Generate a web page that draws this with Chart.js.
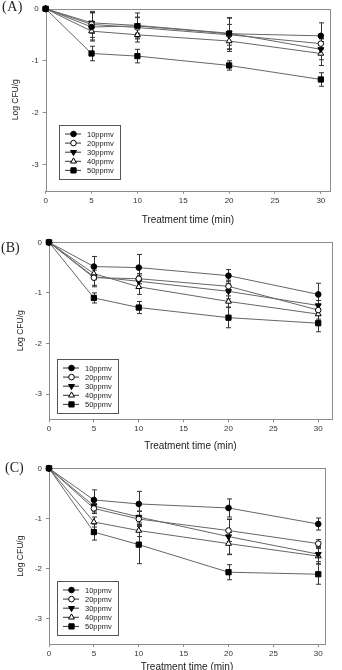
<!DOCTYPE html>
<html>
<head>
<meta charset="utf-8">
<script src="https://cdn.jsdelivr.net/npm/chart.js@4.4.1/dist/chart.umd.min.js"></script>
<style>
  html, body { margin: 0; padding: 0; background: #fff; }
  #wrap { position: relative; width: 342px; height: 670px; overflow: hidden; }
  canvas { position: absolute; left: 0; }
  .tag { position: absolute; font-family: "Liberation Serif", serif; font-size: 14px; line-height: 14px; color: #222; }
</style>
</head>
<body>
<div id="wrap">
  <canvas id="chartA" width="342" height="226" style="top:0px"></canvas>
  <canvas id="chartB" width="342" height="226" style="top:226px"></canvas>
  <canvas id="chartC" width="342" height="226" style="top:452px"></canvas>
  <div class="tag" style="left:2px;top:0px;letter-spacing:0.5px">(A)</div>
  <div class="tag" style="left:1px;top:241px">(B)</div>
  <div class="tag" style="left:5px;top:461px">(C)</div>
</div>
<script>
// sampling times and ozone doses
const times = [0, 5, 10, 20, 30];
const doses = ['10ppmv', '20ppmv', '30ppmv', '40ppmv', '50ppmv'];
const xTicks = [0, 5, 10, 15, 20, 25, 30];
const yTicks = [0, -1, -2, -3];

// (A) log reduction, one row per dose
const logA = [
  [0, -0.35, -0.33, -0.48, -0.52],
  [0, -0.30, -0.36, -0.50, -0.67],
  [0, -0.27, -0.32, -0.47, -0.78],
  [0, -0.43, -0.50, -0.62, -0.86],
  [0, -0.86, -0.91, -1.09, -1.36]
];
const errA = [
  [0, 0.27, 0.25, 0.30, 0.25],
  [0, 0.25, 0.20, 0.20, 0.10],
  [0, 0.20, 0.15, 0.30, 0.20],
  [0, 0.17, 0.14, 0.20, 0.23],
  [0, 0.14, 0.13, 0.09, 0.13]
];

// (B)
const logB = [
  [0, -0.48, -0.50, -0.66, -1.03],
  [0, -0.70, -0.72, -0.87, -1.34],
  [0, -0.68, -0.77, -0.97, -1.25],
  [0, -0.62, -0.88, -1.17, -1.42],
  [0, -1.10, -1.29, -1.49, -1.60]
];
const errB = [
  [0, 0.20, 0.26, 0.12, 0.22],
  [0, 0.15, 0.10, 0.12, 0.10],
  [0, 0.20, 0.12, 0.15, 0.10],
  [0, 0.12, 0.15, 0.11, 0.10],
  [0, 0.10, 0.12, 0.20, 0.17]
];

// (C)
const logC = [
  [0, -0.63, -0.71, -0.79, -1.11],
  [0, -0.80, -1.01, -1.24, -1.50],
  [0, -0.75, -0.97, -1.36, -1.71],
  [0, -1.07, -1.24, -1.50, -1.75],
  [0, -1.27, -1.52, -2.07, -2.11]
];
const errC = [
  [0, 0.20, 0.25, 0.18, 0.12],
  [0, 0.10, 0.15, 0.22, 0.08],
  [0, 0.12, 0.12, 0.35, 0.15],
  [0, 0.10, 0.12, 0.22, 0.15],
  [0, 0.16, 0.38, 0.15, 0.20]
];

const FONT = '"Liberation Sans", Arial, sans-serif';
const markers = [
  { style: 'circle',   r: 2.8, fill: '#000', rot: 0 },
  { style: 'circle',   r: 2.8, fill: '#fff', rot: 0 },
  { style: 'triangle', r: 3.4, fill: '#000', rot: 180 },
  { style: 'triangle', r: 3.4, fill: '#fff', rot: 0 },
  { style: 'rect',     r: 3.7, fill: '#000', rot: 0 }
];

function drawMarker(ctx, m, x, y) {
  ctx.beginPath();
  if (m.style === 'circle') {
    ctx.arc(x, y, m.r, 0, Math.PI * 2);
  } else if (m.style === 'rect') {
    const s = m.r * Math.SQRT1_2;
    ctx.rect(x - s, y - s, 2 * s, 2 * s);
  } else {
    const d = m.rot ? 1 : -1;
    ctx.moveTo(x, y + d * m.r);
    ctx.lineTo(x + m.r * 0.866, y - d * m.r * 0.5);
    ctx.lineTo(x - m.r * 0.866, y - d * m.r * 0.5);
    ctx.closePath();
  }
  ctx.fillStyle = m.fill;
  ctx.fill();
  ctx.stroke();
}

const frame = {
  id: 'frame',
  beforeDatasetsDraw(chart) {
    const { ctx, chartArea: a } = chart;
    ctx.save();
    ctx.strokeStyle = '#8c8c8c';
    ctx.lineWidth = 1;
    ctx.strokeRect(Math.round(a.left) + 0.5, Math.round(a.top) + 0.5,
      Math.round(a.right - a.left), Math.round(a.bottom - a.top));
    ctx.restore();
  }
};

const errorBars = {
  id: 'errorBars',
  beforeDatasetsDraw(chart) {
    const { ctx } = chart;
    const ys = chart.scales.y;
    ctx.save();
    ctx.strokeStyle = '#333';
    ctx.lineWidth = 1;
    chart.data.datasets.forEach((ds, i) => {
      chart.getDatasetMeta(i).data.forEach((pt, j) => {
        const e = ds.err[j];
        if (!e) return;
        const v = ds.data[j].y;
        const x = Math.round(pt.x) + 0.5;
        const t = ys.getPixelForValue(v + e), b = ys.getPixelForValue(v - e);
        ctx.beginPath();
        ctx.moveTo(x, t); ctx.lineTo(x, b);
        ctx.moveTo(x - 2.5, t); ctx.lineTo(x + 2.5, t);
        ctx.moveTo(x - 2.5, b); ctx.lineTo(x + 2.5, b);
        ctx.stroke();
      });
    });
    ctx.restore();
  }
};

const boxLegend = {
  id: 'boxLegend',
  afterDatasetsDraw(chart, args, o) {
    const { ctx, chartArea: a } = chart;
    const w = 61, h = 54;
    const x0 = Math.round(a.left + o.dx), y0 = Math.round(a.bottom - o.dy - h);
    ctx.save();
    ctx.fillStyle = '#fff';
    ctx.fillRect(x0, y0, w, h);
    ctx.strokeStyle = '#555';
    ctx.lineWidth = 1;
    ctx.strokeRect(x0 + 0.5, y0 + 0.5, w, h);
    ctx.font = '7.5px ' + FONT;
    ctx.textBaseline = 'middle';
    chart.data.datasets.forEach((ds, i) => {
      const y = y0 + 9 + i * 9.1;
      ctx.strokeStyle = '#333';
      ctx.beginPath();
      ctx.moveTo(x0 + 6, y); ctx.lineTo(x0 + 22, y);
      ctx.stroke();
      ctx.strokeStyle = '#000';
      drawMarker(ctx, markers[i], x0 + 14.5, y);
      ctx.fillStyle = '#222';
      ctx.fillText(ds.label, x0 + 28, y + 0.5);
    });
    ctx.restore();
  }
};

function panel(id, means, errs, g) {
  const datasets = doses.map((name, i) => ({
    label: name,
    data: times.map((t, j) => ({ x: t, y: means[i][j] })),
    err: errs[i],
    borderColor: '#666',
    borderWidth: 1,
    pointStyle: markers[i].style,
    pointRadius: markers[i].r,
    pointRotation: markers[i].rot,
    pointBackgroundColor: markers[i].fill,
    pointBorderColor: '#000',
    pointBorderWidth: 1,
    tension: 0,
    clip: false
  }));
  new Chart(document.getElementById(id), {
    type: 'line',
    data: { datasets },
    plugins: [frame, errorBars, boxLegend],
    options: {
      responsive: false,
      animation: false,
      devicePixelRatio: 1,
      layout: { padding: { left: 0, top: g.top, right: 342 - g.right, bottom: 0 } },
      plugins: {
        legend: { display: false },
        tooltip: { enabled: false },
        boxLegend: { dx: g.legDx, dy: g.legDy }
      },
      scales: {
        x: {
          type: 'linear', min: 0, max: g.xMax,
          afterBuildTicks: s => { s.ticks = xTicks.map(v => ({ value: v })); },
          afterFit: s => { s.height = 226 - g.bottom; },
          grid: { drawOnChartArea: false, drawTicks: true, tickLength: 3, color: '#8c8c8c' },
          border: { display: false },
          ticks: { font: { family: FONT, size: 8 }, color: '#333', padding: 2, maxRotation: 0 },
          title: { display: true, text: 'Treatment time (min)', color: '#222',
            font: { family: FONT, size: 10 }, padding: { top: 0, bottom: g.xtPad } }
        },
        y: {
          type: 'linear', min: -3.5, max: 0,
          afterBuildTicks: s => { s.ticks = yTicks.map(v => ({ value: v })); },
          afterFit: s => { s.width = g.left; },
          grid: { drawOnChartArea: false, drawTicks: true, tickLength: 3, color: '#8c8c8c' },
          border: { display: false },
          ticks: { font: { family: FONT, size: 8 }, color: '#333', padding: 4 },
          title: { display: true, text: 'Log CFU/g', color: '#222',
            font: { family: FONT, size: 8.5 }, padding: { top: g.ytPad, bottom: 0 } }
        }
      }
    }
  });
}

panel('chartA', logA, errA, { left: 45.7, top: 6, right: 330, bottom: 190.7, xMax: 31, legDx: 13.3, legDy: 11.7, xtPad: 0, ytPad: 11 });
panel('chartB', logB, errB, { left: 49, top: 16.3, right: 331.7, bottom: 193.3, xMax: 31.5, legDx: 8.3, legDy: 6.6, xtPad: 0, ytPad: 16 });
panel('chartC', logC, errC, { left: 49, top: 16.3, right: 325, bottom: 192, xMax: 30.75, legDx: 8.3, legDy: 9, xtPad: 4.5, ytPad: 16 });
</script>
</body>
</html>
